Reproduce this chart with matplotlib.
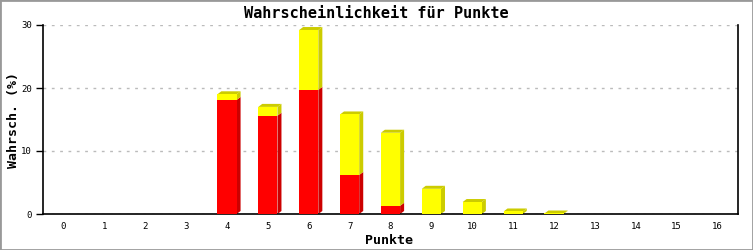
import numpy as np
import matplotlib.pyplot as plt
from matplotlib.patches import Polygon

# Punkte 0..16, Wahrscheinlichkeit in %
punkte = list(range(17))
rot = [0, 0, 0, 0, 18.1, 15.6, 19.7, 6.2, 1.3, 0, 0, 0, 0, 0, 0, 0, 0]
gelb = [0, 0, 0, 0, 0.9, 1.4, 9.5, 9.6, 11.6, 4.0, 1.9, 0.4, 0.08, 0, 0, 0, 0]
yticks = [0, 10, 20, 30]

mono = 'DejaVu Sans Mono'
fig = plt.figure(figsize=(7.53, 2.50), dpi=100)
fig.patches.append(plt.Rectangle((0, 0), 1, 1, transform=fig.transFigure,
                                 fill=False, edgecolor='#999999', linewidth=2))
ax = fig.add_axes([43/753, 36/250, 695/753, 189/250])

w = 0.47
x = np.array(punkte, dtype=float)
rot = np.array(rot)
gelb = np.array(gelb)

ax.bar(x, rot, width=w, color='#ff0000', zorder=3)
ax.bar(x, gelb, width=w, bottom=rot, color='#ffff00', zorder=3)

# 3D-Effekt: Seiten und Deckel
dx = 4 / 40.875
dy = 3 / 6.3
for xi, r, g in zip(x, rot, gelb):
    xr = xi + w / 2
    xl = xi - w / 2
    if r > 0:
        ax.add_patch(Polygon([(xr, 0), (xr + dx, dy), (xr + dx, r + dy), (xr, r)],
                             closed=True, color='#cc0000', lw=0, zorder=2))
    if g > 0:
        ax.add_patch(Polygon([(xr, r), (xr + dx, r + dy), (xr + dx, r + g + dy), (xr, r + g)],
                             closed=True, color='#cccc00', lw=0, zorder=2))
    top = r + g
    if top > 0:
        ax.add_patch(Polygon([(xl, top), (xl + dx, top + dy), (xr + dx, top + dy), (xr, top)],
                             closed=True, color='#cccc00' if g > 0 else '#cc0000',
                             lw=0, zorder=2))

ax.set_xlim(-0.5, 16.5)
ax.set_ylim(0, 30)
ax.set_xticks(punkte)
ax.set_xticklabels([str(p) for p in punkte], fontsize=6.5, family=mono)
ax.set_yticks(yticks)
ax.set_yticklabels([str(t) for t in yticks], fontsize=6.5, family=mono)
ax.tick_params(axis='x', length=0, pad=6)
ax.tick_params(axis='y', length=5, width=1, pad=3)
ax.yaxis.grid(True, linestyle=(0, (2, 4)), color='#bbbbbb', linewidth=1, zorder=0)
ax.set_axisbelow(True)
ax.spines['top'].set_visible(False)
for s in ['left', 'bottom', 'right']:
    ax.spines[s].set_linewidth(1.2)

fig.text(376/753, 1 - 13/250, 'Wahrscheinlichkeit für Punkte', fontsize=11,
         fontweight='bold', family=mono, ha='center', va='center')
fig.text(389/753, 1 - 240/250, 'Punkte', fontsize=9.5, fontweight='bold',
         family=mono, ha='center', va='center')
fig.text(14/753, 1 - 120/250, 'Wahrsch. (%)', fontsize=9.5, fontweight='bold',
         family=mono, ha='center', va='center', rotation=90)

fig.savefig('out.png', dpi=100)
